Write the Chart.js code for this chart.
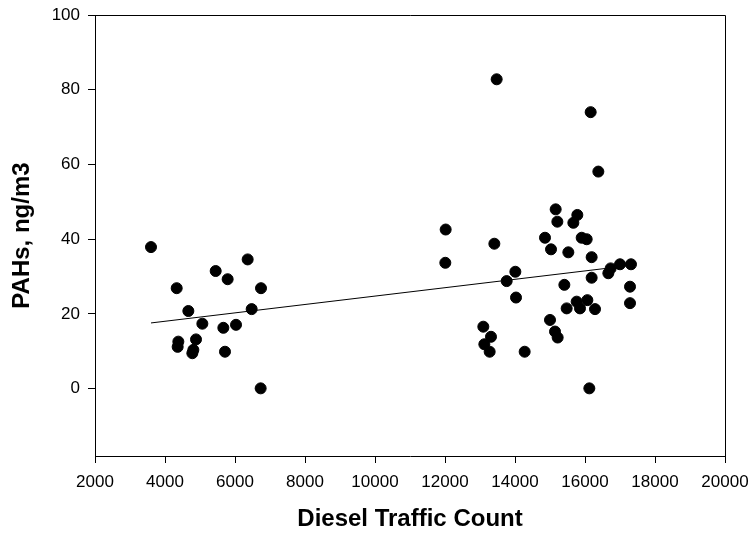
<!DOCTYPE html>
<html>
<head>
<meta charset="utf-8">
<script src="https://cdn.jsdelivr.net/npm/chart.js@4.4.1/dist/chart.umd.min.js"></script>
<style>
  html, body { margin:0; padding:0; background:#fff; }
  #wrap { width:752px; height:540px; }
</style>
</head>
<body>
<div id="wrap"><canvas id="c"></canvas></div>
<script>
// --- data ---
const trafficCount = [
  3600, 4334, 4667, 4381, 4362, 4886, 4810, 4781, 5067, 5448, 5790, 5667, 5714, 6029, 6362, 6476, 6743, 6733,
  13476, 12019, 12009, 13410, 14010, 13762, 14029, 13095, 13314, 13124, 13276, 14276,
  16162, 16381, 15162, 15210, 15667, 15781, 14857, 15029, 15524, 15905, 16048, 16190, 16190, 15410,
  16667, 16733, 17000, 17314, 17286, 17286, 15762, 15857, 16067, 16286, 15476, 15000, 15143, 15219, 16124
];
const pahValues = [
  37.9, 26.9, 20.8, 12.6, 11.2, 13.2, 10.4, 9.5, 17.4, 31.5, 29.3, 16.3, 9.9, 17.1, 34.6, 21.3, 26.9, 0.1,
  82.8, 42.6, 33.7, 38.8, 31.3, 28.8, 24.4, 16.6, 13.9, 11.9, 9.9, 9.9,
  74.0, 58.1, 48.0, 44.7, 44.4, 46.5, 40.4, 37.3, 36.5, 40.4, 40.0, 35.2, 29.7, 27.8,
  30.9, 32.2, 33.3, 33.3, 27.3, 22.9, 23.3, 21.5, 23.7, 21.3, 21.5, 18.4, 15.3, 13.7, 0.1
];
// regression line end points
const fitX = [3600, 17314];
const fitY = [17.6, 33.0];

const xTicks = [2000, 4000, 6000, 8000, 10000, 12000, 14000, 16000, 18000, 20000];
const yTicks = [0, 20, 40, 60, 80, 100];

const FONT = "'Liberation Sans', Arial, sans-serif";

// closes the box on top and right
const frame = {
  id: 'frame',
  afterDraw(chart) {
    const { ctx, chartArea: a } = chart;
    ctx.save();
    ctx.strokeStyle = '#000';
    ctx.lineWidth = 1;
    ctx.beginPath();
    ctx.moveTo(a.left, a.top + 0.5);
    ctx.lineTo(a.right + 0.5, a.top + 0.5);
    ctx.lineTo(a.right + 0.5, a.bottom);
    ctx.stroke();
    ctx.restore();
  }
};

new Chart(document.getElementById('c'), {
  type: 'scatter',
  data: {
    datasets: [
      {
        data: trafficCount.map((x, i) => ({ x: x, y: pahValues[i] })),
        backgroundColor: '#000',
        borderColor: '#000',
        pointRadius: 5.5,
        pointHoverRadius: 5.5,
        order: 1
      },
      {
        type: 'line',
        data: fitX.map((x, i) => ({ x: x, y: fitY[i] })),
        borderColor: '#000',
        borderWidth: 1,
        pointRadius: 0,
        fill: false,
        order: 2
      }
    ]
  },
  options: {
    responsive: true,
    maintainAspectRatio: false,
    animation: false,
    layout: { padding: { top: 15, right: 27, left: 0, bottom: 0 } },
    plugins: { legend: { display: false }, tooltip: { enabled: false } },
    scales: {
      x: {
        type: 'linear',
        min: 2000, max: 20000,
        afterBuildTicks: s => { s.ticks = xTicks.map(v => ({ value: v })); },
        afterFit: s => { s.height = 84; s.paddingLeft = 0; s.paddingRight = 0; },
        grid: { drawOnChartArea: false, drawTicks: true, tickLength: 7, color: '#000' },
        border: { display: true, color: '#000', width: 1 },
        ticks: { color: '#000', font: { family: FONT, size: 17 }, padding: 9, maxRotation: 0,
                 callback: v => String(v) },
        title: { display: true, text: 'Diesel Traffic Count', color: '#000',
                 font: { family: FONT, size: 24, weight: 'bold' }, padding: { top: 0, bottom: 6 } }
      },
      y: {
        type: 'linear',
        min: -18, max: 100,
        afterBuildTicks: s => { s.ticks = yTicks.map(v => ({ value: v })); },
        afterFit: s => { s.width = 95; s.paddingTop = 0; s.paddingBottom = 0; },
        grid: { drawOnChartArea: false, drawTicks: true, tickLength: 7, color: '#000' },
        border: { display: true, color: '#000', width: 1 },
        ticks: { color: '#000', font: { family: FONT, size: 17 }, padding: 8,
                 callback: v => String(v) },
        title: { display: true, text: 'PAHs, ng/m3', color: '#000',
                 font: { family: FONT, size: 24, weight: 'bold' }, padding: { top: 8, bottom: 0 } }
      }
    }
  },
  plugins: [frame]
});
</script>
</body>
</html>
